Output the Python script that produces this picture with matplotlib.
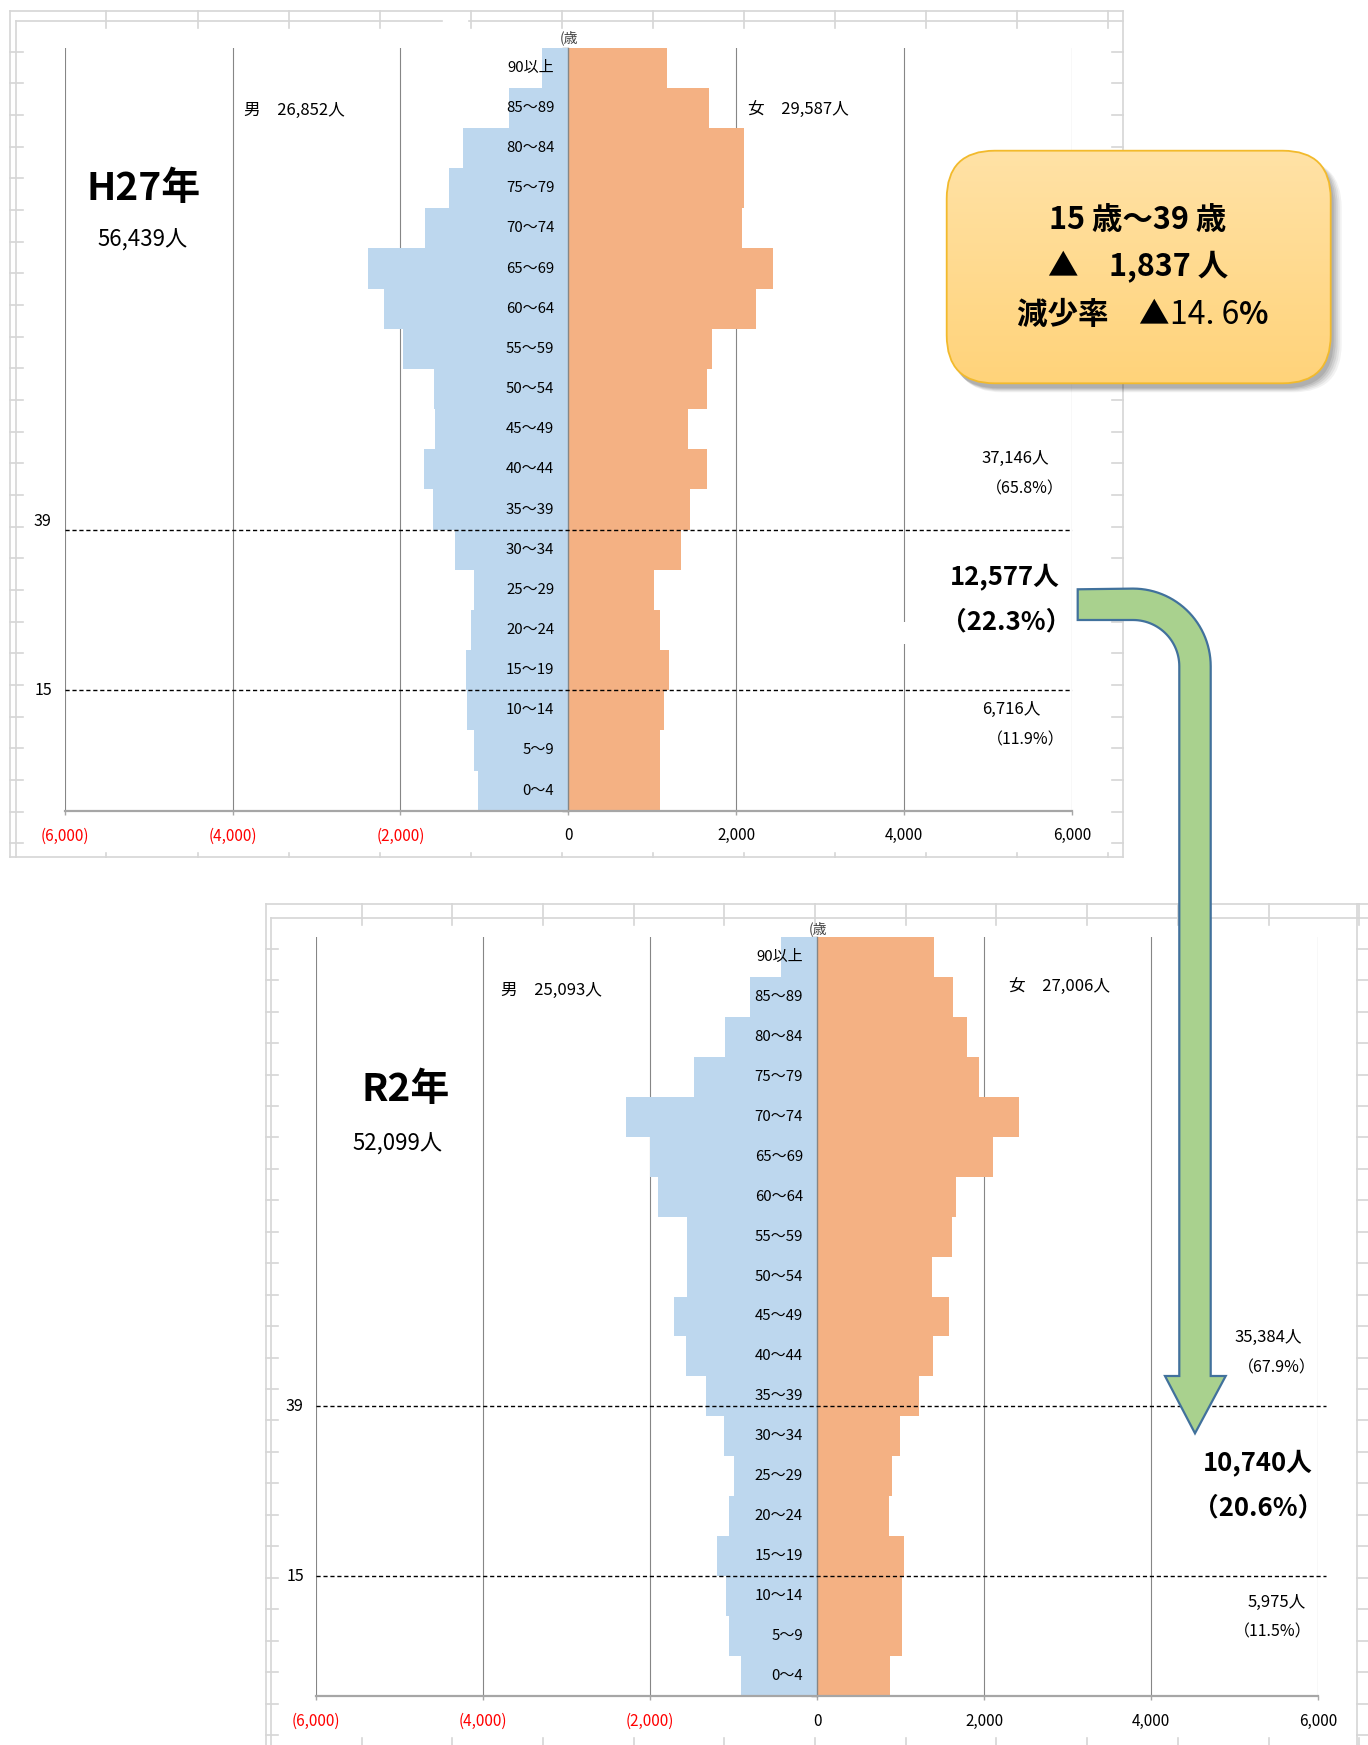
import numpy as np
import matplotlib
matplotlib.use('Agg')
import matplotlib.pyplot as plt
from matplotlib.patches import FancyBboxPatch, Polygon, Rectangle
from matplotlib import transforms

plt.rcParams['font.family'] = ['Noto Sans CJK JP', 'DejaVu Sans']

# ---------------- data ----------------
age_groups = ["0～4", "5～9", "10～14", "15～19", "20～24", "25～29", "30～34",
              "35～39", "40～44", "45～49", "50～54", "55～59", "60～64", "65～69",
              "70～74", "75～79", "80～84", "85～89", "90以上"]

h27_male = [1074, 1122, 1207, 1223, 1165, 1122, 1345, 1616, 1717, 1584,
            1601, 1972, 2201, 2382, 1707, 1420, 1254, 712, 308]
h27_female = [1088, 1088, 1135, 1195, 1088, 1016, 1346, 1449, 1647, 1421,
              1647, 1707, 2231, 2441, 2068, 2095, 2095, 1675, 1179]
r2_male = [909, 1054, 1087, 1193, 1054, 994, 1113, 1327, 1567, 1717,
           1557, 1557, 1899, 2005, 2289, 1477, 1102, 803, 428]
r2_female = [872, 1012, 1012, 1044, 864, 892, 996, 1224, 1388, 1584,
             1376, 1616, 1660, 2112, 2416, 1936, 1796, 1632, 1404]

x_ticks = [-6000, -4000, -2000, 0, 2000, 4000, 6000]
x_tick_labels = ["(6,000)", "(4,000)", "(2,000)", "0", "2,000", "4,000", "6,000"]

h27_texts = dict(title="H27年", total="56,439人", male="男　26,852人", female="女　29,587人",
                 old="37,146人", old_pct="（65.8%）", mid="12,577人", mid_pct="（22.3%）",
                 young="6,716人", young_pct="（11.9%）")
r2_texts = dict(title="R2年", total="52,099人", male="男　25,093人", female="女　27,006人",
                old="35,384人", old_pct="（67.9%）", mid="10,740人", mid_pct="（20.6%）",
                young="5,975人", young_pct="（11.5%）")

callout_lines = ["15 歳～39 歳", "▲　1,837 人"]
callout_rate = ("減少率　▲", "14. 6", "%")

# ---------------- figure ----------------
W, H = 1368, 1745
fig = plt.figure(figsize=(W / 100, H / 100), dpi=100)
fig.patch.set_facecolor('white')

def px_axes(left, top, right, bottom, **kw):
    return fig.add_axes([left / W, 1 - bottom / H, (right - left) / W, (bottom - top) / H], **kw)

# background canvas (spreadsheet frames)
bg = fig.add_axes([0, 0, 1, 1], zorder=0)
bg.set_xlim(0, W); bg.set_ylim(H, 0); bg.axis('off')
FC = '#D6D6D6'

def frame(x0, x1, y0, y1, xin, yin, cols, rows, gap=None):
    bg.plot([x0, x1], [y0, y0], color=FC, lw=1.2)
    if gap:
        bg.plot([xin, gap[0]], [yin, yin], color=FC, lw=1.2)
        bg.plot([gap[1], x1], [yin, yin], color=FC, lw=1.2)
    else:
        bg.plot([xin, x1], [yin, yin], color=FC, lw=1.2)
    bg.plot([x0, x0], [y0, y1], color=FC, lw=1.2)
    bg.plot([xin, xin], [yin, y1], color=FC, lw=1.2)
    for cx in cols:
        bg.plot([cx, cx], [y0, yin + 7], color=FC, lw=1.2)
    for ry in rows:
        bg.plot([x0, xin + 7], [ry, ry], color=FC, lw=1.2)

# top frame
top_cols = [106, 198, 289, 380, 471, 561.6, 652.7, 743.9, 835, 925.8, 1017, 1107.7]
top_rows = list(np.arange(51.7, 850, 31.66))
frame(9.5, 1122.7, 10.7, 857.3, 15.6, 21, top_cols, top_rows, gap=(442, 469))
bg.plot([9.5, 1122.7], [857.3, 857.3], color=FC, lw=1.2)
bg.plot([1122.7, 1122.7], [10.7, 857.3], color=FC, lw=1.2)
for ry in top_rows:
    bg.plot([1112, 1122.7], [ry, ry], color=FC, lw=1.2)
for cx in top_cols:
    bg.plot([cx, cx], [852.5, 857.3], color=FC, lw=1.2)

# bottom frame
bot_cols = list(np.arange(361.6, 1368, 90.7))
bot_rows = list(np.arange(948.7, 1745, 31.45))
frame(265.6, 1368, 904, 1745, 271, 917.7, bot_cols, bot_rows)
bg.plot([1356.7, 1356.7], [904, 1745], color=FC, lw=1.2)
for ry in bot_rows:
    bg.plot([1356.7, 1368], [ry, ry], color=FC, lw=1.2)
for cx in bot_cols:
    bg.plot([cx, cx], [1738, 1745], color=FC, lw=1.2)


def draw_pyramid(ax, male, female, line39, dash_right, lab39_dy):
    y = np.arange(len(age_groups))
    ax.barh(y, [-m for m in male], height=1.0, color='#BDD7EE', zorder=1, linewidth=0)
    ax.barh(y, female, height=1.0, color='#F4B183', zorder=1, linewidth=0)
    ax.set_xlim(-6000, 6000)
    ax.set_ylim(-0.5, len(age_groups) - 0.5)
    ax.set_facecolor('white')
    ax.set_xticks(x_ticks)
    ax.set_xticklabels(x_tick_labels, fontsize=11)
    for lbl, v in zip(ax.get_xticklabels(), x_ticks):
        lbl.set_color('#FF0000' if v < 0 else 'black')
    ax.grid(axis='x', color='#868686', lw=0.8)
    ax.set_axisbelow(True)
    ax.spines['top'].set_visible(False)
    ax.spines['right'].set_visible(False)
    ax.spines['bottom'].set_color('#A6A6A6')
    ax.spines['bottom'].set_linewidth(1.6)
    ax.spines['left'].set_position(('data', 0))
    ax.spines['left'].set_color('#868686')
    ax.spines['left'].set_linewidth(1.0)
    ax.set_yticks(np.arange(-0.5, len(age_groups), 1.0))
    ax.set_yticklabels([])
    ax.tick_params(axis='y', length=4, color='#868686', direction='out', width=1.0)
    ax.tick_params(axis='x', length=3, color='#A6A6A6', width=1.0, pad=9)
    trans = transforms.offset_copy(ax.transData, fig=fig, x=-14, y=0, units='dots')
    for i, lab in enumerate(age_groups):
        ax.text(0, i, lab, transform=trans, ha='right', va='center', fontsize=10.8, zorder=5)
    ax.hlines([2.5, line39], -6000, dash_right, colors='black', linestyles=(0, (3, 2)),
              lw=1.0, zorder=4, clip_on=False)
    ltrans = transforms.offset_copy(ax.transData, fig=fig, x=-22, y=lab39_dy, units='dots')
    ax.text(-6000, line39, "39", transform=ltrans, ha='center', va='center', fontsize=11.5)
    ltrans2 = transforms.offset_copy(ax.transData, fig=fig, x=-21, y=0, units='dots')
    ax.text(-6000, 2.5, "15", transform=ltrans2, ha='center', va='center', fontsize=11.5)


ax1 = px_axes(64.7, 47.7, 1072, 810.7, zorder=2)
draw_pyramid(ax1, h27_male, h27_female, 6.5, 6000, 8)
ax2 = px_axes(316.1, 937, 1318, 1696, zorder=2)
draw_pyramid(ax2, r2_male, r2_female, 6.75, 6100, 0)

# foreground canvas
fg = fig.add_axes([0, 0, 1, 1], zorder=5)
fg.set_xlim(0, W); fg.set_ylim(H, 0); fg.axis('off')
fg.patch.set_alpha(0)

# little white patch hiding gridline behind a text box (as in reference)
fg.add_patch(Rectangle((898, 622), 12, 22, facecolor='white', edgecolor='none', zorder=1))

def chart_texts(t, axis_px, title_xy, total_xy, male_xy, female_xy, right):
    fg.text(axis_px[0] - 8, axis_px[1], "(歳", ha='left', va='center', fontsize=10, color='#404040')
    fg.text(*title_xy, t['title'], ha='center', va='center', fontsize=28, fontweight='bold')
    fg.text(*total_xy, t['total'], ha='center', va='center', fontsize=16)
    fg.text(*male_xy, t['male'], ha='left', va='center', fontsize=12)
    fg.text(*female_xy, t['female'], ha='left', va='center', fontsize=12)
    (ox, oy, ox2, oy2, mx, my, mx2, my2, yx, yy, yx2, yy2) = right
    fg.text(ox, oy, t['old'], ha='center', va='center', fontsize=12)
    fg.text(ox2, oy2, t['old_pct'], ha='center', va='center', fontsize=11.5)
    fg.text(mx, my, t['mid'], ha='center', va='center', fontsize=18.5, fontweight='bold')
    fg.text(mx2, my2, t['mid_pct'], ha='center', va='center', fontsize=18.5, fontweight='bold')
    fg.text(yx, yy, t['young'], ha='center', va='center', fontsize=12)
    fg.text(yx2, yy2, t['young_pct'], ha='center', va='center', fontsize=11.5)

chart_texts(h27_texts, (568, 38), (144, 188), (143, 240), (244, 110), (748, 110),
            (1015, 458, 1025, 489, 1005, 577, 1006, 622, 1011, 709, 1026, 740))
chart_texts(r2_texts, (817, 929), (406, 1090), (398, 1144), (501, 990), (1009, 987),
            (1268, 1337, 1277, 1368, 1258, 1463, 1258, 1508, 1277, 1602, 1273, 1632))

# bent arrow
cx, cy = 1133.0, 666.3
r_out, r_in = 77.7, 46.3
ang = np.linspace(-np.pi / 2, 0, 30)
outer = [(cx + r_out * np.cos(a), cy + r_out * np.sin(a)) for a in ang]
inner = [(cx + r_in * np.cos(a), cy + r_in * np.sin(a)) for a in ang[::-1]]
verts = [(1077.7, 589.3)] + outer + [(1210.7, 1376), (1225.7, 1376), (1195, 1433.3),
                                     (1165, 1376), (1179.3, 1376)] + inner + [(1077.7, 620)]
fg.add_patch(Polygon(verts, closed=True, facecolor='#A9D18E', edgecolor='#41719C',
                     lw=1.6, joinstyle='miter', zorder=3))

# callout box with shadow and gradient
bx0, by0, bx1, by1 = 946.7, 150.7, 1330.7, 383.3
for k, a in enumerate([0.05, 0.06, 0.07, 0.08, 0.09]):
    off = 9 - k
    sh = FancyBboxPatch((bx0 + off - 2, by0 + off), bx1 - bx0 + 2 * (4 - k) * 0.5, by1 - by0,
                        boxstyle="round,pad=0,rounding_size=48", facecolor='black',
                        edgecolor='none', alpha=a, zorder=4)
    fg.add_patch(sh)
box = FancyBboxPatch((bx0, by0), bx1 - bx0, by1 - by0, boxstyle="round,pad=0,rounding_size=48",
                     facecolor='none', edgecolor='#F2BA2C', lw=1.3, zorder=6)
fg.add_patch(box)
grad = np.linspace(0, 1, 256).reshape(-1, 1)
top_c = np.array([255, 226, 166]) / 255
bot_c = np.array([255, 211, 122]) / 255
img = top_c[None, None, :] * (1 - grad[:, :, None]) + bot_c[None, None, :] * grad[:, :, None]
im = fg.imshow(img, extent=[bx0, bx1, by1, by0], aspect='auto', zorder=5, interpolation='bilinear')
im.set_clip_path(box)
fg.set_xlim(0, W); fg.set_ylim(H, 0)

fg.text(1138, 220, callout_lines[0], ha='center', va='center', fontsize=22, fontweight='bold', zorder=7)
fg.text(1138, 267, callout_lines[1], ha='center', va='center', fontsize=22, fontweight='bold', zorder=7)
t1 = fg.text(1017, 315, callout_rate[0], ha='left', va='center', fontsize=22, fontweight='bold', zorder=7)
t2 = fg.annotate(callout_rate[1], xy=(1, 0.5), xycoords=t1, ha='left', va='center',
                 fontsize=23, zorder=7)
fg.annotate(callout_rate[2], xy=(1, 0.5), xycoords=t2, ha='left', va='center',
            fontsize=22, fontweight='bold', zorder=7)

fig.savefig('out.png', dpi=100)
